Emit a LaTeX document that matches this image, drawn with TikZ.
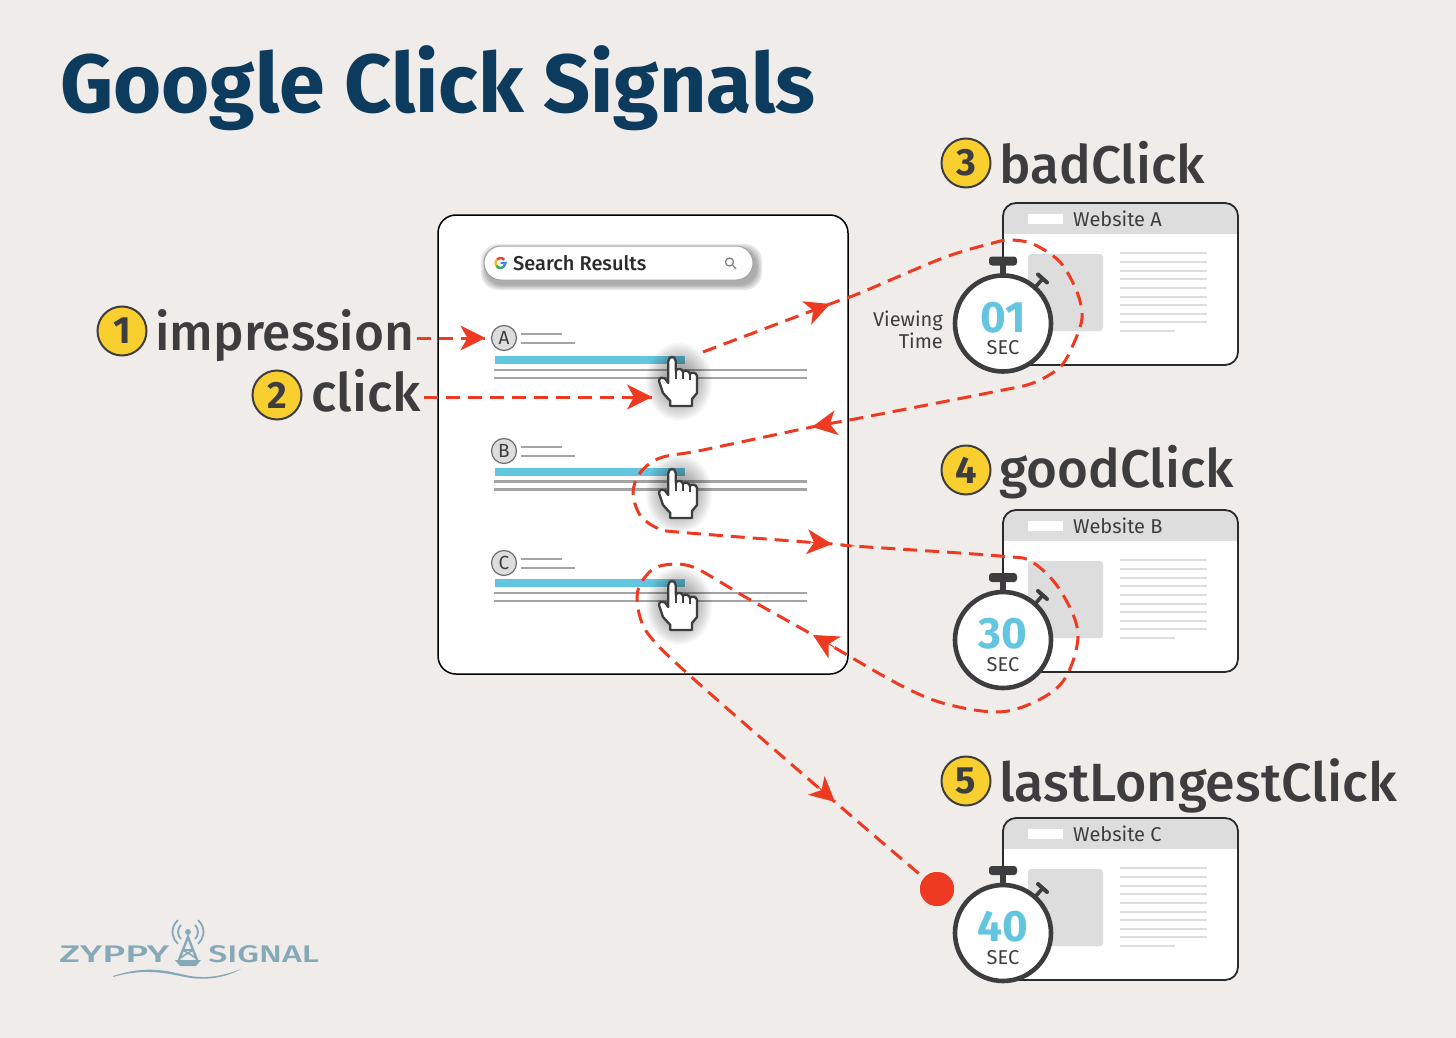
\documentclass[tikz,border=0pt]{standalone}
\usepackage{fontspec}
\setmainfont{Fira Sans}
\usetikzlibrary{arrows.meta,calc}
\definecolor{bgc}{HTML}{F0ECE9}
\definecolor{navy}{HTML}{0D3B5E}
\definecolor{ink}{HTML}{3D3D3F}
\definecolor{redc}{HTML}{EF3A22}
\definecolor{yel}{HTML}{F9CF30}
\definecolor{blu}{HTML}{63C5DF}
\definecolor{lgrey}{HTML}{DDDDDD}
\definecolor{mgrey}{HTML}{A3A3A3}
\definecolor{logoc}{HTML}{85A9B8}
\newfontfamily\medfont{Fira Sans Medium}
\tikzset{
  x=1pt,y=-1pt,
  dashline/.style={draw=redc,line width=3pt,dash pattern=on 14pt off 8pt},
  headtip/.style={draw=redc,line width=1pt,solid,-{Stealth[length=25pt,width=25pt,inset=7pt]}},
  badge/.style={circle,draw=ink,line width=2pt,fill=yel,minimum size=49pt,inner sep=0pt,text=ink,font=\fontsize{38}{38}\selectfont\bfseries},
  biglabel/.style={anchor=base west,inner sep=0pt,text=ink,font=\fontsize{#1}{51}\selectfont\medfont},
  webtext/.style={anchor=west,inner sep=0pt,text=ink,font=\fontsize{20}{20}\selectfont},
  greyline/.style={draw=mgrey,line width=2.6pt},
  thinline/.style={draw=lgrey,line width=2pt},
  logotext/.style={anchor=base west,inner sep=0pt,text=logoc,font=\fontsize{24}{24}\selectfont\medfont,transform shape},
}
\newcommand{\resultrow}[3]{% letter, circle y, row y of blue bar top
  \node[circle,draw=ink!75,line width=1.2pt,fill=lgrey,minimum size=25pt,inner sep=0pt,font=\fontsize{19}{19}\selectfont,text=ink] (circ#1) at (504,#2) {#1};
  \draw[greyline,line width=2.2pt] (521,#2-4) -- (562,#2-4);
  \draw[greyline,line width=2.2pt] (521,#2+5) -- (575,#2+5);
  \fill[blu] (495,#3) rectangle (685,#3+8);
  \draw[greyline] (494,#3+14) -- (807,#3+14);
  \draw[greyline] (494,#3+22) -- (807,#3+22);
}
\newcommand{\handpic}[2]{%
  \begin{scope}[shift={(#1,#2)}]
    \foreach \r in {39,37,...,5}{\fill[black,opacity=.03] (7,25) ellipse ({\r*0.85} and \r);}
    \draw[ink,line width=2.3pt,fill=white,line join=round]
      (-3.7,4) .. controls (-3.7,-1.3) and (3.7,-1.3) .. (3.7,4) -- (3.7,14)
      .. controls (5,11) and (10,11) .. (11,15)
      .. controls (12,13) and (17,13) .. (18,17)
      .. controls (19,15) and (24.5,15) .. (25,19)
      -- (25,36) -- (20,42) -- (20,49) -- (-1.7,49) -- (-1.7,44) -- (-9,36) -- (-13,24)
      .. controls (-13,20) and (-9,20) .. (-7,21.5) -- (-3.7,26) -- cycle;
    \draw[ink,line width=1.6pt] (3.7,14) -- (3.7,22) (11,15) -- (11,22) (18,17) -- (18,23);
  \end{scope}
}
\newcommand{\website}[3]{% name, top y, title
  \begin{scope}[shift={(0,#2)}]
    \fill[white,rounded corners=13pt] (1003,0) rectangle (1238,162);
    \begin{scope}
      \clip[rounded corners=13pt] (1003,0) rectangle (1238,162);
      \fill[lgrey] (1003,0) rectangle (1238,31);
    \end{scope}
    \draw[ink!70!black,line width=1.8pt,rounded corners=13pt] (1003,0) rectangle (1238,162);
    \fill[white] (1028,11) rectangle (1063,21);
    \node[webtext] (#1) at (1073,16) {#3};
    \fill[lgrey,rounded corners=3pt] (1028,51) rectangle (1103,128);
    \foreach \yy in {50,59,68,76,85,94,102,111,119}{\draw[thinline] (1120,\yy) -- (1207,\yy);}
    \draw[thinline] (1120,128) -- (1175,128);
  \end{scope}
}
\newcommand{\stopwatch}[3]{% name, center y, digits
  \begin{scope}[shift={(1003,#2)}]
    \draw[ink,line width=6pt] (0,-62) -- (0,-45);
    \fill[ink,rounded corners=3pt] (-14,-67) rectangle (14,-58);
    \draw[ink,line width=3.6pt] (32,-36) -- (39,-44);
    \draw[ink,line width=4pt,line cap=round] (35,-49) -- (44,-41);
    \node[circle,draw=ink,line width=4.6pt,fill=white,minimum size=96pt,inner sep=0pt] (#1) at (0,0) {};
    \node[inner sep=0pt,text=blu,font=\fontsize{44}{44}\selectfont\bfseries] (#1d) at (0,-6) {#3};
    \node[inner sep=0pt,text=ink,font=\fontsize{20}{20}\selectfont] (#1s) at (0,24.5) {SEC};
  \end{scope}
}
\begin{document}
\begin{tikzpicture}
\useasboundingbox (0,0) rectangle (1456,1038);
\fill[bgc] (0,0) rectangle (1456,1038);

\node[anchor=base west,inner sep=0pt,text=navy,font=\fontsize{82.5}{84}\selectfont\bfseries] (title) at (60,113) {Google Click Signals};

% results card
\node[draw=black,line width=1.5pt,fill=white,rounded corners=18pt,minimum width=410pt,minimum height=459pt,inner sep=0pt] (card) at (643,444.5) {};
\foreach \d in {6,4.5,3,1.5}{\fill[black,opacity=.09,rounded corners=17pt] (484+3-\d,246+4-\d) rectangle (753+3+\d,280+4+\d);}
\node[draw=mgrey,line width=1pt,fill=white,rounded corners=17pt,minimum width=269pt,minimum height=34pt,inner sep=0pt] (search) at (618.5,263) {};
\coordinate (gc) at (500.5,263);
\draw[line width=2.4pt,color={rgb,255:red,234;green,67;blue,53}] ([shift={(40:5pt)}]gc) arc (40:135:5pt);
\draw[line width=2.4pt,color={rgb,255:red,251;green,188;blue,5}] ([shift={(135:5pt)}]gc) arc (135:215:5pt);
\draw[line width=2.4pt,color={rgb,255:red,52;green,168;blue,83}] ([shift={(215:5pt)}]gc) arc (215:310:5pt);
\draw[line width=2.4pt,color={rgb,255:red,66;green,133;blue,244}] ([shift={(310:5pt)}]gc) arc (310:360:5pt) -- (gc);
\node[anchor=base west,inner sep=0pt,text=ink!70!black,font=\fontsize{20}{20}\selectfont\medfont] (searchtxt) at (513,270) {Search Results};
\draw[mgrey!80!black,line width=1.3pt] (729.5,262) circle (4pt) (732.5,265) -- (736,269);

\resultrow{A}{338}{356}
\resultrow{B}{451}{467.5}
\resultrow{C}{563}{579}
\handpic{672}{357}
\handpic{672}{469}
\handpic{672}{581}

% websites
\website{webA}{203}{Website A}
\website{webB}{510}{Website B}
\website{webC}{818}{Website C}
\stopwatch{swA}{323.5}{01}
\stopwatch{swB}{640}{30}
\stopwatch{swC}{933}{40}
\node[align=right,anchor=east,inner sep=0pt,text=ink,font=\fontsize{20}{22}\selectfont] (vt) at (943,330) {Viewing\\Time};

% badges + labels
\node[badge] (b1) at (122,331) {1};
\node[biglabel=51.4] (impression) at (155,350) {impression};
\node[badge] (b2) at (277,395) {2};
\node[biglabel=53] (click) at (311,411) {click};
\node[badge] (b3) at (966,163) {3};
\node[biglabel=53] (bad) at (999,183) {badClick};
\node[badge] (b4) at (966,470) {4};
\node[biglabel=53] (good) at (999,487) {goodClick};
\node[badge] (b5) at (966,781) {5};
\node[biglabel=53.8] (last) at (999,801) {lastLongestClick};

% connectors
\coordinate (impOut) at (417,338);
\coordinate (clickOut) at (424,397);
\coordinate (clickIn) at (652,397);
\coordinate (start) at (703,352);
\node[circle,fill=redc,minimum size=34pt,inner sep=0pt] (dot) at (937,889) {};
\draw[dashline,shorten >=6pt] (impOut) -- (circA.west);
\draw[headtip,shorten >=5.5pt] ($(circA.west)+(-24,0)$) -- (circA.west);
\draw[dashline] (clickOut) -- (clickIn);
\draw[headtip] ($(clickIn)+(-24,0)$) -- (clickIn);
\draw[dashline] plot[smooth,tension=.55] coordinates {
  (start) (830,304) (860,293) (943,258) (993,243) (1010,240) (1033,244) (1060,262) (1077,292)
  (1082,318) (1073,345) (1060,367) (1033,383) (993,392) (860,418) (812,427) (703,450) (660,458)
  (640,473) (633,493) (640,515) (657,528) (677,532) (832,544) (853,546) (1000,556) (1032,562)
  (1060,590) (1078,635) (1060,685) (1008,711) (950,705) (900,685) (813,635) (747,598)
  (712,577) (693,567) (675,564) (653,569) (638,590) (640,617) (653,640) (697,682) (835,802) (dot)};
\fill[redc] (dot) circle (17pt);
\draw[headtip] (808,312.5) -- (830,304);
\draw[headtip] (835,423) -- (812,427);
\draw[headtip] (810,542) -- (832,544);
\draw[headtip] (834,647) -- (813,635);
\draw[headtip] (817,786) -- (835,802);

% logo
\node[logotext,xscale=1.62] (zyppy) at (59,962) {ZYPPY};
\node[logotext,xscale=1.42] (signal) at (208,962) {SIGNAL};
\begin{scope}[logoc]
  \coordinate (lc) at (188,932);
  \fill (lc) circle (3pt);
  \draw[line width=1.8pt] ([shift={(135:10pt)}]lc) arc (135:225:10pt) ([shift={(45:10pt)}]lc) arc (45:-45:10pt);
  \draw[line width=1.8pt] ([shift={(130:15.5pt)}]lc) arc (130:230:15.5pt) ([shift={(50:15.5pt)}]lc) arc (50:-50:15.5pt);
  \draw[line width=2.4pt] (179,960) -- (188,937) -- (197,960);
  \draw[line width=1.6pt] (183,950) -- (193,950) (180,958) -- (193,950) (196,958) -- (183,950);
  \fill (175,960) -- (201,960) -- (196,966) -- (180,966) -- cycle;
  \fill (113,976) .. controls (150,964) and (170,972) .. (190,976) .. controls (210,979) and (225,975) .. (241,969) .. controls (225,978) and (205,981) .. (185,977) .. controls (165,973) and (145,968) .. (113,977) -- cycle;
\end{scope}
\end{tikzpicture}
\end{document}
